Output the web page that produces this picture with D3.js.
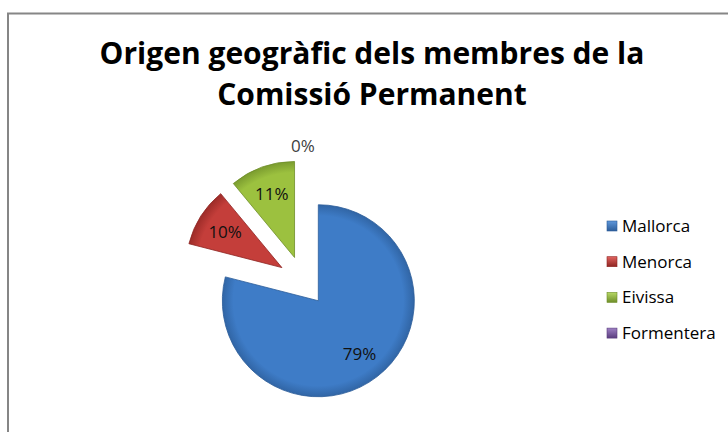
<!DOCTYPE html>
<html>
<head>
<meta charset="utf-8">
<script src="https://cdn.jsdelivr.net/npm/d3@7"></script>
<style>
  body { margin: 0; background: #fff; }
  svg { display: block; }
</style>
</head>
<body>
<div id="chart"></div>
<script>
// dades
var categories = ["Mallorca", "Menorca", "Eivissa", "Formentera"];
var values = [79, 10, 11, 0];
var labels = ["79%", "10%", "11%", "0%"];
var titleLines = ["Origen geogràfic dels membres de la", "Comissió Permanent"];

var colors = ["#3E7CC7", "#C43E3A", "#9CC13F", "#7F5CA8"];
var darkColors = ["#2C5D99", "#8E2522", "#6E8E29", "#5A3D7E"];
var lightColors = ["#5F97DA", "#E0625E", "#B7D865", "#9E80C4"];

var width = 728, height = 432;
var svg = d3.select("#chart").append("svg")
    .attr("width", width)
    .attr("height", height);

// chart border (cut on the right/bottom like the original)
svg.append("rect")
    .attr("x", 8).attr("y", 13.5)
    .attr("width", 740).attr("height", 440)
    .attr("fill", "#fff")
    .attr("stroke", "#868686")
    .attr("stroke-width", 2);

// title
svg.selectAll("text.title")
    .data(titleLines)
    .enter()
    .append("text")
    .attr("class", "title")
    .attr("x", 372)
    .attr("y", function (d, i) { return 64 + i * 41; })
    .attr("text-anchor", "middle")
    .style("font-family", "'Open Sans', sans-serif")
    .style("font-weight", "bold")
    .style("font-size", "30px")
    .style("fill", "#000")
    .text(function (d) { return d; });

// gradients
var defs = svg.append("defs");
colors.forEach(function (c, i) {
    var g = defs.append("radialGradient")
        .attr("id", "grad" + i)
        .attr("gradientUnits", "userSpaceOnUse")
        .attr("cx", 0).attr("cy", 0).attr("r", 100);
    g.append("stop").attr("offset", "0%").attr("stop-color", colors[i]);
    g.append("stop").attr("offset", "85%").attr("stop-color", colors[i]);
    g.append("stop").attr("offset", "100%").attr("stop-color", darkColors[i]);
    var lg = defs.append("linearGradient")
        .attr("id", "leg" + i)
        .attr("x1", 0).attr("y1", 0).attr("x2", 0).attr("y2", 1);
    lg.append("stop").attr("offset", "0%").attr("stop-color", lightColors[i]);
    lg.append("stop").attr("offset", "100%").attr("stop-color", darkColors[i]);
});

var cx = 303, cy = 281;
var radius = 96;
var explode = 25;

var pie = d3.pie().sort(null).value(function (d) { return d; });
var arcs = pie(values);

var arc = d3.arc().innerRadius(0).outerRadius(radius);
var labelArc = d3.arc().innerRadius(radius * 0.7).outerRadius(radius * 0.7);
var outerLabelArc = d3.arc().innerRadius(radius + 14).outerRadius(radius + 14);

function offset(d) {
    var a = (d.startAngle + d.endAngle) / 2;
    return [explode * Math.sin(a), -explode * Math.cos(a)];
}

var g = svg.append("g").attr("transform", "translate(" + cx + "," + cy + ")");

var slices = g.selectAll("g.slice")
    .data(arcs)
    .enter()
    .append("g")
    .attr("class", "slice")
    .attr("transform", function (d) {
        var o = offset(d);
        return "translate(" + o[0] + "," + o[1] + ")";
    });

slices.filter(function (d) { return d.value > 0; })
    .append("path")
    .attr("d", arc)
    .attr("fill", function (d, i) { return "url(#grad" + d.index + ")"; })
    .attr("stroke", function (d) { return darkColors[d.index]; })
    .attr("stroke-width", 0.8);

slices.append("text")
    .attr("transform", function (d) {
        var p = d.value > 0 ? labelArc.centroid(d) : outerLabelArc.centroid(d);
        return "translate(" + p[0] + "," + p[1] + ")";
    })
    .attr("dy", "0.35em")
    .attr("text-anchor", "middle")
    .style("font-family", "'Open Sans', sans-serif")
    .style("font-size", "17px")
    .style("fill", function (d) { return d.value > 0 ? "#111" : "#404040"; })
    .text(function (d) { return labels[d.index]; });

// legend
var legend = svg.append("g").attr("transform", "translate(607,226)");
var items = legend.selectAll("g")
    .data(categories)
    .enter()
    .append("g")
    .attr("transform", function (d, i) { return "translate(0," + (i * 35.7) + ")"; });

items.append("rect")
    .attr("x", 0).attr("y", -5)
    .attr("width", 10).attr("height", 10)
    .attr("fill", function (d, i) { return "url(#leg" + i + ")"; })
    .attr("stroke", function (d, i) { return darkColors[i]; })
    .attr("stroke-width", 0.6);

items.append("text")
    .attr("x", 15)
    .attr("dy", "0.35em")
    .style("font-family", "'Open Sans', sans-serif")
    .style("font-size", "17px")
    .style("fill", "#000")
    .text(function (d) { return d; });
</script>
</body>
</html>
